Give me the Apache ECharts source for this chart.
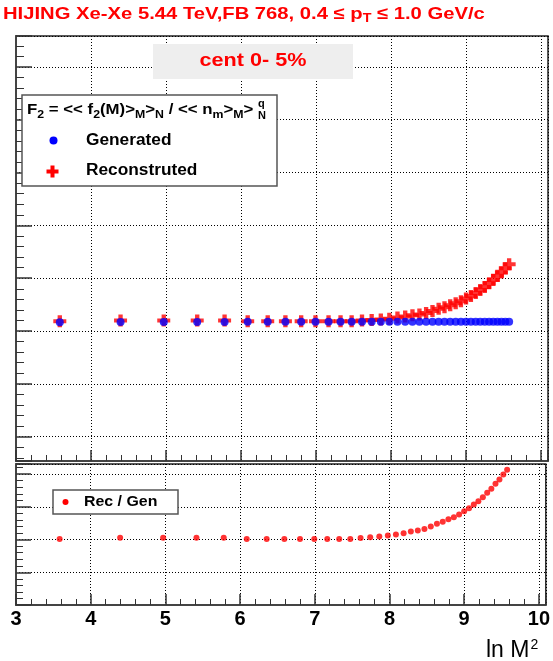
<!DOCTYPE html>
<html>
<head>
<meta charset="utf-8">
<script src="https://cdn.jsdelivr.net/npm/echarts@6/dist/echarts.min.js"></script>
<style>
  html, body { margin: 0; padding: 0; background: #ffffff; }
  #chart { width: 553px; height: 661px; }
</style>
</head>
<body>
<div id="chart"></div>
<script>
// Multiplicity bins expressed as ln(M^2), M = 6, 9, 12, ... 120
const lnM2 = [
  3.584, 4.394, 4.970, 5.416, 5.781, 6.089, 6.356, 6.592, 6.802, 6.993,
  7.167, 7.327, 7.475, 7.613, 7.742, 7.864, 7.978, 8.086, 8.189, 8.286,
  8.379, 8.468, 8.553, 8.635, 8.713, 8.789, 8.862, 8.932, 9.000, 9.065,
  9.129, 9.190, 9.250, 9.308, 9.364, 9.419, 9.472, 9.524, 9.575
];

// Normalised factorial moment F2, generator level
const generated = [
  2.033, 2.034, 2.034, 2.034, 2.034, 2.035, 2.035, 2.035, 2.035, 2.035,
  2.035, 2.035, 2.035, 2.035, 2.035, 2.035, 2.035, 2.035, 2.035, 2.035,
  2.035, 2.035, 2.035, 2.035, 2.035, 2.035, 2.035, 2.035, 2.035, 2.035,
  2.035, 2.035, 2.035, 2.035, 2.035, 2.035, 2.035, 2.035, 2.035
];

// F2 after reconstruction
const reconstructed = [
  2.037, 2.040, 2.040, 2.040, 2.040, 2.037, 2.037, 2.037, 2.037, 2.037,
  2.037, 2.037, 2.037, 2.040, 2.042, 2.044, 2.047, 2.051, 2.055, 2.060,
  2.063, 2.068, 2.076, 2.084, 2.090, 2.098, 2.105, 2.113, 2.123, 2.133,
  2.144, 2.155, 2.167, 2.181, 2.193, 2.209, 2.222, 2.238, 2.253
];

// Ratio reconstructed / generated
const recOverGen = [
  1.001, 1.003, 1.003, 1.003, 1.003, 1.001, 1.001, 1.001, 1.001, 1.001,
  1.001, 1.001, 1.001, 1.0026, 1.0035, 1.0046, 1.0061, 1.0077, 1.0097, 1.0123,
  1.0138, 1.0164, 1.0199, 1.0241, 1.0272, 1.0311, 1.0342, 1.0384, 1.0434, 1.0480,
  1.0537, 1.0588, 1.0649, 1.0716, 1.0778, 1.0854, 1.0920, 1.0997, 1.1069
];

// Labelled ticks of the ln M^2 axis
const xTicks = [3, 4, 5, 6, 7, 8, 9, 10];

const FONT = 'Liberation Sans, Arial, Helvetica, sans-serif';
const frame = '#222222';
const dotted = { type: [1, 2], color: '#000000', width: 1 };

const crossPath = 'path://M4,0 L8,0 L8,4 L12,4 L12,8 L8,8 L8,12 L4,12 L4,8 L0,8 L0,4 L4,4 Z';

function pairs(ys) { return lnM2.map((x, i) => [x, ys[i]]); }

function crossPoints(cx, cy) {
  const a = 2, b = 6;
  return [[cx - a, cy - b], [cx + a, cy - b], [cx + a, cy - a], [cx + b, cy - a], [cx + b, cy + a], [cx + a, cy + a],
          [cx + a, cy + b], [cx - a, cy + b], [cx - a, cy + a], [cx - b, cy + a], [cx - b, cy - a], [cx - a, cy - a]];
}

function xAxisFor(grid, withLabels) {
  return {
    gridIndex: grid, type: 'value', min: 3, max: 10.093, interval: 1,
    axisLine: { show: true, onZero: false, lineStyle: { color: '#444', width: 2 } },
    axisTick: { show: true, inside: true, length: 11, lineStyle: { color: '#333', width: 1.5 } },
    minorTick: { show: true, splitNumber: 5, length: 6, lineStyle: { color: '#333', width: 1 } },
    splitLine: { show: true, lineStyle: dotted },
    axisLabel: {
      show: withLabels, showMaxLabel: false, margin: 4,
      color: '#000', fontSize: 20, fontWeight: 'bold', fontFamily: FONT,
      formatter: v => (xTicks.indexOf(Math.round(v * 1000) / 1000) >= 0 ? String(v) : '')
    }
  };
}

function yAxisFor(grid, min, max, step, minorSplit, majorLen, minorLen) {
  return {
    gridIndex: grid, type: 'value', min: min, max: max,
    minInterval: step, maxInterval: step,
    axisLine: { show: true, onZero: false, lineStyle: { color: '#444', width: 2 } },
    axisTick: { show: true, inside: true, length: majorLen, lineStyle: { color: '#333', width: 1.5 } },
    minorTick: { show: true, splitNumber: minorSplit, length: minorLen, lineStyle: { color: '#333', width: 1 } },
    splitLine: { show: true, lineStyle: dotted },
    axisLabel: { show: false }
  };
}

const chart = echarts.init(document.getElementById('chart'), null, { renderer: 'canvas' });

chart.setOption({
  animation: false,
  backgroundColor: '#ffffff',
  grid: [
    { left: 16, top: 36, width: 532, height: 425, show: true, borderColor: frame, borderWidth: 1.5, backgroundColor: '#fff' },
    { left: 16, top: 464, width: 532, height: 141, show: true, borderColor: frame, borderWidth: 1.5, backgroundColor: '#fff' }
  ],
  xAxis: [xAxisFor(0, false), xAxisFor(1, true)],
  yAxis: [
    yAxisFor(0, 1.508, 3.117, 0.2, 5, 16, 8),
    yAxisFor(1, 0.9, 1.1156, 0.05, 5, 15, 7)
  ],
  series: [
    {
      name: 'Reconstruted', type: 'scatter', xAxisIndex: 0, yAxisIndex: 0,
      symbol: crossPath, symbolSize: [13, 12], itemStyle: { color: '#ff0000' },
      data: pairs(reconstructed), z: 3
    },
    {
      name: 'Generated', type: 'scatter', xAxisIndex: 0, yAxisIndex: 0,
      symbol: 'circle', symbolSize: 8, itemStyle: { color: '#0000ff' },
      data: pairs(generated), z: 4
    },
    {
      name: 'Rec / Gen', type: 'scatter', xAxisIndex: 1, yAxisIndex: 1,
      symbol: 'circle', symbolSize: 6, itemStyle: { color: '#ff0000' },
      data: pairs(recOverGen), z: 3
    }
  ],
  graphic: [
    // title
    {
      type: 'text', x: 3, y: 14, scaleX: 1.19, z: 100,
      style: {
        text: '{m|HIJING Xe-Xe 5.44 TeV,FB 768, 0.4 ≤ p}{s|T}{m| ≤ 1.0 GeV/c}',
        verticalAlign: 'middle',
        rich: {
          m: { fontSize: 17, fontWeight: 'bold', fontFamily: FONT, fill: '#ff0000', color: '#ff0000', lineHeight: 20, verticalAlign: 'middle' },
          s: { fontSize: 12, fontWeight: 'bold', fontFamily: FONT, fill: '#ff0000', color: '#ff0000', lineHeight: 20, padding: [10, 0, 0, 0], verticalAlign: 'middle' }
        }
      }
    },
    // centrality box
    { type: 'rect', z: 100, shape: { x: 153, y: 44, width: 200, height: 35 }, style: { fill: '#eeeeee', stroke: null } },
    {
      type: 'text', z: 101, x: 253, y: 61.5, scaleX: 1.2,
      style: { text: 'cent 0- 5%', fill: '#ff0000', fontSize: 18, fontWeight: 'bold', fontFamily: FONT, align: 'center', verticalAlign: 'middle' }
    },
    // legend of the upper pad
    { type: 'rect', z: 100, shape: { x: 22, y: 95, width: 255, height: 91 }, style: { fill: '#ffffff', stroke: '#555555', lineWidth: 1.5 } },
    {
      type: 'text', z: 101, x: 27, y: 110, scaleX: 1.12,
      style: {
        text: '{m|F}{s|2}{m| = << f}{s|2}{m|(M)>}{s|M}{m|>}{s|N}{m| / << n}{s|m}{m|>}{s|M}{m|>}',
        verticalAlign: 'middle',
        rich: {
          m: { fontSize: 15, fontWeight: 'bold', fontFamily: FONT, fill: '#000', color: '#000', lineHeight: 18, verticalAlign: 'middle' },
          s: { fontSize: 11, fontWeight: 'bold', fontFamily: FONT, fill: '#000', color: '#000', lineHeight: 18, padding: [9, 0, 0, 0], verticalAlign: 'middle' }
        }
      }
    },
    { type: 'text', z: 101, x: 258, y: 104, style: { text: 'q', fill: '#000', fontSize: 11, fontWeight: 'bold', fontFamily: FONT, verticalAlign: 'middle' } },
    { type: 'text', z: 101, x: 258, y: 116, style: { text: 'N', fill: '#000', fontSize: 11, fontWeight: 'bold', fontFamily: FONT, verticalAlign: 'middle' } },
    { type: 'circle', z: 101, shape: { cx: 53.5, cy: 140.5, r: 4 }, style: { fill: '#0000ff' } },
    { type: 'text', z: 101, x: 86, y: 140.5, scaleX: 1.08, style: { text: 'Generated', fill: '#000', fontSize: 16, fontWeight: 'bold', fontFamily: FONT, verticalAlign: 'middle' } },
    { type: 'polygon', z: 101, shape: { points: crossPoints(52.5, 171.5) }, style: { fill: '#ff0000' } },
    { type: 'text', z: 101, x: 86, y: 171, scaleX: 1.08, style: { text: 'Reconstruted', fill: '#000', fontSize: 16, fontWeight: 'bold', fontFamily: FONT, verticalAlign: 'middle' } },
    // legend of the ratio pad
    { type: 'rect', z: 100, shape: { x: 53, y: 490, width: 125, height: 24 }, style: { fill: '#ffffff', stroke: '#555555', lineWidth: 1.5 } },
    { type: 'circle', z: 101, shape: { cx: 65.5, cy: 502, r: 3 }, style: { fill: '#ff0000' } },
    { type: 'text', z: 101, x: 84, y: 502, scaleX: 1.06, style: { text: 'Rec / Gen', fill: '#000', fontSize: 15, fontWeight: 'bold', fontFamily: FONT, verticalAlign: 'middle' } },
    // x axis title
    {
      type: 'text', z: 101, x: 486, y: 651,
      style: {
        text: '{m|ln M}{p|2}',
        verticalAlign: 'middle',
        rich: {
          m: { fontSize: 23, fontFamily: FONT, fill: '#000', color: '#000', lineHeight: 24, verticalAlign: 'middle' },
          p: { fontSize: 14, fontFamily: FONT, fill: '#000', color: '#000', lineHeight: 24, padding: [0, 0, 12, 1], verticalAlign: 'middle' }
        }
      }
    }
  ]
});
</script>
</body>
</html>
